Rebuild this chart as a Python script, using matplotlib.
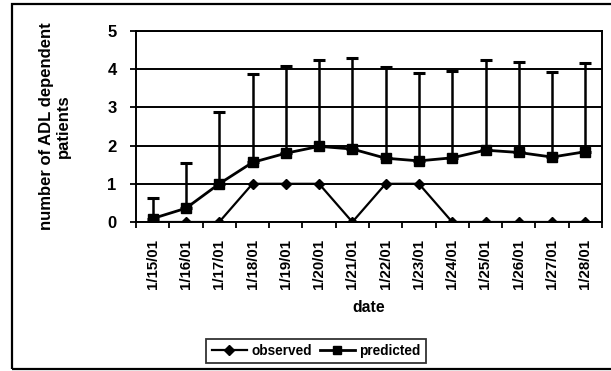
import numpy as np
import matplotlib.pyplot as plt
from matplotlib.patches import Rectangle
from matplotlib.lines import Line2D

plt.rcParams["font.family"] = ["Liberation Sans", "DejaVu Sans"]
plt.rcParams["font.weight"] = "bold"

dates = ["1/15/01", "1/16/01", "1/17/01", "1/18/01", "1/19/01", "1/20/01", "1/21/01",
         "1/22/01", "1/23/01", "1/24/01", "1/25/01", "1/26/01", "1/27/01", "1/28/01"]
observed = [0, 0, 0, 1, 1, 1, 0, 1, 1, 0, 0, 0, 0, 0]
predicted = [0.09, 0.36, 1.00, 1.56, 1.80, 1.98, 1.91, 1.67, 1.60, 1.68, 1.88, 1.82, 1.70, 1.84]
predicted_sd = [0.55, 1.18, 1.87, 2.32, 2.28, 2.25, 2.39, 2.39, 2.30, 2.27, 2.37, 2.38, 2.22, 2.32]

W, H = 611, 371
fig = plt.figure(figsize=(W / 100, H / 100), dpi=100)
ax = fig.add_axes([136 / W, 1 - 222 / H, (602 - 136) / W, (222 - 31) / H])

x = np.arange(len(dates))

# predicted with upper error bars only
ax.errorbar(x, predicted, yerr=[np.zeros(len(x)), predicted_sd], color="black",
            linewidth=2, marker="s", markersize=7, ecolor="black", elinewidth=1.8,
            capsize=4, capthick=2.2, zorder=3)
ax.plot(x, observed, color="black", linewidth=1.6, marker="D", markersize=5, zorder=4)

ax.set_xlim(-0.5, len(dates) - 0.5)
ax.set_ylim(0, 5)
ax.set_yticks(range(6))
ax.yaxis.grid(True, color="black", linewidth=1.4)
ax.set_axisbelow(True)

fs = 10.8
ax.set_xticks(x)
ax.set_xticklabels(dates, rotation=90, fontsize=fs, fontweight="bold")
ax.set_xticks(np.arange(-0.5, len(dates)), minor=True)
ax.tick_params(axis="x", which="major", length=0, pad=12)
ax.tick_params(axis="x", which="minor", length=4, width=1.3, direction="out")
ax.tick_params(axis="y", length=4, width=1.3, direction="out", labelsize=12, pad=10)
for lbl in ax.get_yticklabels():
    lbl.set_fontweight("bold")

for s in ax.spines.values():
    s.set_linewidth(1.4)
    s.set_color("black")

ax.set_xlabel("date", fontsize=11.3, fontweight="bold", labelpad=8)
ax.set_ylabel("number of ADL dependent\npatients", fontsize=12, fontweight="bold",
              labelpad=26, linespacing=1.15)

# outer chart frame
fig.patches.append(Rectangle((12 / W, 1 - 369 / H), 1.0, (369 - 4) / H,
                             transform=fig.transFigure, fill=False,
                             edgecolor="black", linewidth=1.6))

handles = [
    Line2D([], [], color="black", linewidth=1.6, marker="D", markersize=5),
    Line2D([], [], color="black", linewidth=2, marker="s", markersize=6),
]
leg = fig.legend(handles, ["observed", "predicted"], loc="center",
                 bbox_to_anchor=(316 / W, 1 - 351 / H), ncol=2, fontsize=9.8,
                 frameon=True, fancybox=False, edgecolor="black",
                 handlelength=2.6, handletextpad=0.3, columnspacing=0.6,
                 borderpad=0.4)
leg.get_frame().set_linewidth(1.3)
for t in leg.get_texts():
    t.set_fontweight("bold")

fig.savefig("out.png", dpi=100)
